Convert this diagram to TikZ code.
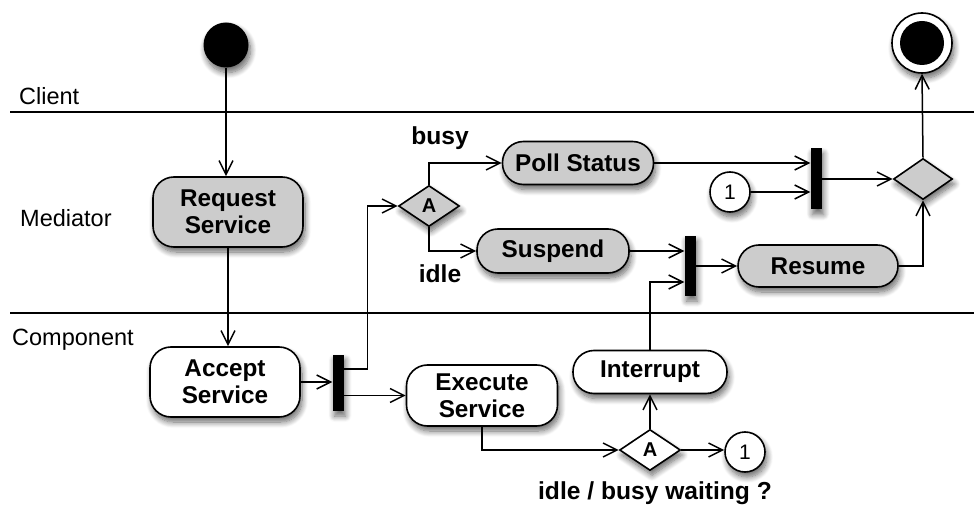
\documentclass[tikz,border=0pt]{standalone}
\usepackage{fontspec}
\setmainfont{Liberation Sans}
\usetikzlibrary{arrows.meta,shapes.geometric,shadows.blur}

\definecolor{actfill}{gray}{0.8}

\begin{document}
\begin{tikzpicture}[x=1pt,y=-1pt,
  font=\fontsize{23.5}{27}\selectfont,
  shadowed/.style={blur shadow={shadow xshift=2pt,shadow yshift=-5pt,
      shadow blur radius=6pt,shadow blur steps=10,shadow opacity=60}},
  action/.style={draw,line width=1.6pt,rounded corners=21pt,inner sep=0pt,
      align=center,font=\fontsize{24.3}{27}\selectfont\bfseries,shadowed},
  mediatoract/.style={action,fill=actfill},
  componentact/.style={action,fill=white},
  decision/.style={draw,diamond,line width=1.6pt,inner sep=0pt,
      minimum width=61pt,minimum height=41pt,
      font=\fontsize{20}{24}\selectfont\bfseries,shadowed},
  syncbar/.style={fill=black,draw=none,inner sep=0pt,minimum width=11pt,
      minimum height=58pt,shadowed},
  connector/.style={circle,draw,fill=white,line width=1.6pt,inner sep=0pt,
      minimum size=40pt,font=\fontsize{21}{24}\selectfont,shadowed},
  flow/.style={line width=1.5pt,
      -{Straight Barb[length=14pt,width=14pt,line width=1.5pt]}},
  lane/.style={line width=1.5pt},
  lanelabel/.style={inner sep=0pt},
  guard/.style={inner sep=0pt,font=\fontsize{24.6}{27}\selectfont\bfseries}]

\useasboundingbox (0,0) rectangle (974,518);

% swimlane separators and titles
\draw[lane] (10,112) -- (974,112);
\draw[lane] (10,313) -- (974,313);
\node[lanelabel,anchor=base west] (lclient) at (19,105) {Client};
\node[lanelabel,anchor=west] (lmediator) at (20,218) {Mediator};
\node[lanelabel,anchor=west] (lcomponent) at (12,340) {Component};

% start and end
\node[circle,fill=black,inner sep=0pt,minimum size=45pt,shadowed] (init) at (226,45) {};
\node[circle,draw,fill=white,line width=1.6pt,inner sep=0pt,minimum size=60pt,shadowed] (final) at (922,43) {};
\node[circle,fill=black,inner sep=0pt,minimum size=44pt] (finalcore) at (final) {};

% mediator lane
\node[mediatoract,minimum width=150pt,minimum height=70pt] (req) at (228,212) {Request\\Service};
\node[decision,fill=actfill] (decA) at (429,206) {A};
\node[mediatoract,minimum width=151pt,minimum height=43pt] (poll) at (578,163) {Poll Status};
\node[mediatoract,minimum width=152pt,minimum height=44pt] (susp) at (553,251) {Suspend};
\node[syncbar,minimum height=60pt] (bar2) at (690,266) {};
\node[mediatoract,minimum width=160pt,minimum height=42pt] (resume) at (818,266) {Resume};
\node[syncbar,minimum height=61pt] (bar3) at (816,179) {};
\node[connector] (conin) at (730,192) {1};
\node[decision,fill=actfill,minimum width=59pt] (merge) at (923,179) {};
\node[guard] (lbusy) at (440,138) {busy};
\node[guard] (lidle) at (440,274) {idle};

% component lane
\node[componentact,minimum width=150pt,minimum height=70pt] (accept) at (225,382) {Accept\\Service};
\node[syncbar,minimum height=56pt] (bar1) at (338,383) {};
\node[componentact,minimum width=151pt,minimum height=61pt] (exec) at (482,395.5) {Execute\\Service};
\node[componentact,minimum width=154pt,minimum height=43pt] (intr) at (650,372) {Interrupt};
\node[decision,fill=white] (decB) at (650,450) {A};
\node[connector] (conout) at (745,452) {1};
\node[guard] (lwait) at (655,493) {idle / busy waiting ?};

% control flow
\draw[flow] (init) -- (init |- req.north);
\draw[flow] (req.south) -- (req.south |- accept.north);
\draw[flow] (accept) -- (accept -| bar1.west);
\draw[flow] ([yshift=14pt]bar1.east) -- ++(24,0) |- (decA.west);
\draw[flow] (bar1.east |- exec.west) -- (exec.west);
\draw[flow] (decA.north) |- (poll.west);
\draw[flow] (decA.south) |- (susp.west);
\draw[flow] (susp.east) -- (susp.east -| bar2.west);
\draw[flow] (intr.north) |- ([yshift=-16pt]bar2.west);
\draw[flow] (bar2.east |- resume.west) -- (resume.west);
\draw[flow] (resume.east) -| (merge.south);
\draw[flow] (poll.east) -- (poll.east -| bar3.west);
\draw[flow] (conin.east) -- (conin.east -| bar3.west);
\draw[flow] (bar3.east |- merge.west) -- (merge.west);
\draw[flow] (merge.north) -- (final.south);
\draw[flow] (exec.south) |- (decB.west);
\draw[flow] (decB.north) -- (intr.south);
\draw[flow] (decB.east) -- (conout.west |- decB.east);

\end{tikzpicture}
\end{document}
